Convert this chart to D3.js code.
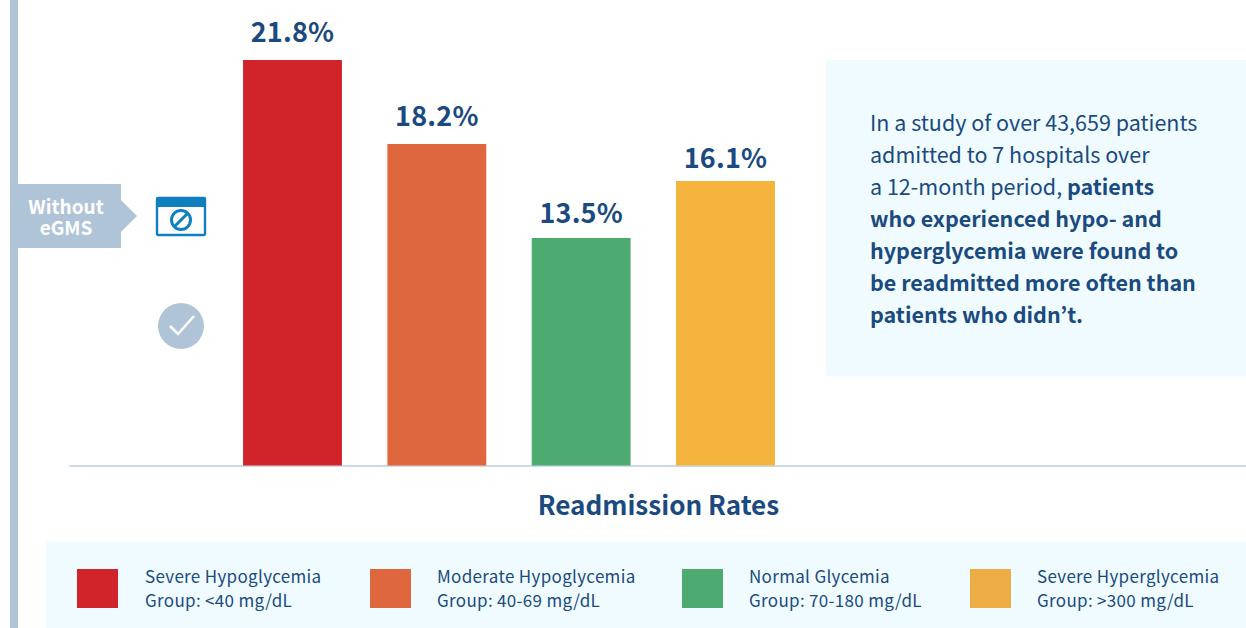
<!DOCTYPE html>
<html><head><meta charset="utf-8">
<script src="https://cdnjs.cloudflare.com/ajax/libs/d3/7.8.5/d3.min.js"></script>
<style>html,body{margin:0;padding:0;background:#fff;overflow:hidden}svg{display:block}
text{font-family:"Noto Sans CJK JP","Noto Sans",sans-serif}</style></head>
<body><svg id="c" width="1246" height="628"></svg>
<script>
const categories = ["Severe Hypoglycemia","Moderate Hypoglycemia","Normal Glycemia","Severe Hyperglycemia"];
const groups = ["Group: <40 mg/dL","Group: 40-69 mg/dL","Group: 70-180 mg/dL","Group: >300 mg/dL"];
const values = [21.8,18.2,13.5,16.1];
const barColors = ["#d0232a","#de673d","#4dab6f","#f4b33d"];
const legendColors = ["#d0232a","#de673d","#4dab6f","#ecad45"];
const chartTitle = "Readmission Rates";
const tagLines = ["Without","eGMS"];
const noteLines = [
 [["In a study of over 43,659 patients",400]],
 [["admitted to 7 hospitals over",400]],
 [["a 12-month period, ",400],["patients",700]],
 [["who experienced hypo- and",700]],
 [["hyperglycemia were found to",700]],
 [["be readmitted more often than",700]],
 [["patients who didn’t.",700]]
];
const navy="#1a4a7f", pale="#effbfe", steel="#b0c4d8";
const svg=d3.select("#c");

// The source graphic's bars are not drawn strictly to scale, so the value axis is piecewise.
const y=d3.scaleLinear().domain([0,13.5,16.1,18.2,21.8]).range([465.5,238,181,144,60]);
const x=d3.scaleBand().domain(categories).range([243-22.75,775+22.75]).paddingInner(0.315).paddingOuter(0.158);
const labelGap=[18,18,15,13];

svg.append("rect").attr("x",10).attr("y",0).attr("width",8).attr("height",628).attr("fill",steel);
svg.append("rect").attr("x",826).attr("y",60).attr("width",420).attr("height",316).attr("fill",pale);
svg.append("rect").attr("x",46).attr("y",542).attr("width",1200).attr("height",86).attr("fill",pale);

// axis baseline
const axis=d3.axisBottom(d3.scaleLinear().domain([0,1]).range([69,1246])).tickValues([]).tickSizeOuter(0);
svg.append("g").attr("transform","translate(0,465.5)").call(axis)
  .select("path").attr("stroke","#bccddc").attr("stroke-width",1.5);

const bars=svg.append("g").selectAll("g").data(categories).join("g");
bars.append("rect").attr("x",d=>x(d)).attr("width",x.bandwidth())
  .attr("y",(d,i)=>y(values[i])).attr("height",(d,i)=>y(0)-y(values[i])).attr("fill",(d,i)=>barColors[i]);
bars.append("text").attr("x",d=>x(d)+x.bandwidth()/2).attr("y",(d,i)=>y(values[i])-labelGap[i])
  .attr("text-anchor","middle").attr("font-weight",700).attr("font-size",27).attr("letter-spacing",0.2).attr("fill",navy)
  .text((d,i)=>values[i].toFixed(1)+"%");

svg.append("text").attr("x",658.5).attr("y",515).attr("text-anchor","middle").attr("font-weight",700)
  .attr("font-size",26.1).attr("fill",navy).text(chartTitle);

// note panel
svg.append("g").selectAll("text").data(noteLines).join("text")
  .attr("x",870).attr("y",(d,i)=>131+i*32).attr("font-size",21.5).attr("fill",navy)
  .selectAll("tspan").data(d=>d).join("tspan").attr("font-weight",d=>d[1]).text(d=>d[0]);

// legend
const legX=[77,370,682,970], legT=[145,437,749,1037];
const leg=svg.append("g").selectAll("g").data(categories).join("g");
leg.append("rect").attr("x",(d,i)=>legX[i]).attr("y",569).attr("width",41).attr("height",39).attr("fill",(d,i)=>legendColors[i]);
leg.append("text").attr("x",(d,i)=>legT[i]).attr("y",583).attr("font-size",17).attr("letter-spacing",0.32).attr("fill",navy).text(d=>d);
leg.append("text").attr("x",(d,i)=>legT[i]).attr("y",607).attr("font-size",17).attr("letter-spacing",0.32).attr("fill",navy).text((d,i)=>groups[i]);

// tag
svg.append("path").attr("d","M18,184H121V200L137,216L121,232V248H18Z").attr("fill",steel);
svg.append("g").selectAll("text").data(tagLines).join("text").attr("x",66).attr("y",(d,i)=>214+i*21)
  .attr("text-anchor","middle").attr("font-weight",700).attr("font-size",19).attr("fill","#fff").text(d=>d);

// icon
const ic=svg.append("g");
ic.append("rect").attr("x",157).attr("y",198).attr("width",48).attr("height",37).attr("rx",1.5).attr("fill","#fff").attr("stroke","#0f7fc0").attr("stroke-width",2.4);
ic.append("rect").attr("x",156).attr("y",197).attr("width",50).attr("height",10).attr("rx",1.5).attr("fill","#0f7fc0");
ic.append("circle").attr("cx",181).attr("cy",220).attr("r",9.5).attr("fill","none").attr("stroke","#0f7fc0").attr("stroke-width",3);
ic.append("line").attr("x1",175).attr("y1",226).attr("x2",187).attr("y2",214).attr("stroke","#0f7fc0").attr("stroke-width",3);

// check
svg.append("circle").attr("cx",181).attr("cy",326).attr("r",23).attr("fill",steel);
svg.append("path").attr("d","M170,326L178,334L194,316").attr("fill","none").attr("stroke","#fff").attr("stroke-width",2.5);
</script></body></html>
